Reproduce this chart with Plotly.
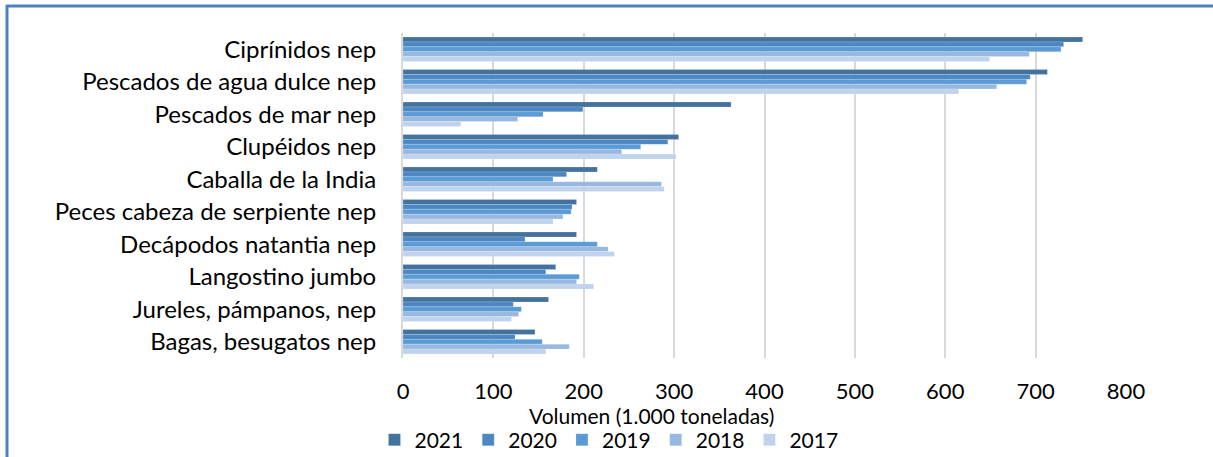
import plotly.graph_objects as go

categories = ["Ciprínidos nep", "Pescados de agua dulce nep", "Pescados de mar nep",
              "Clupéidos nep", "Caballa de la India", "Peces cabeza de serpiente nep",
              "Decápodos natantia nep", "Langostino jumbo", "Jureles, pámpanos, nep",
              "Bagas, besugatos nep"]
years = ["2021", "2020", "2019", "2018", "2017"]
v2021 = [752, 713, 363, 305, 215, 192, 192, 169, 161, 146]
v2020 = [731, 694, 199, 293, 181, 187, 135, 158, 122, 124]
v2019 = [728, 690, 155, 263, 166, 186, 215, 195, 131, 154]
v2018 = [693, 657, 127, 242, 286, 177, 227, 192, 128, 184]
v2017 = [649, 615, 64, 302, 289, 166, 234, 211, 120, 158]
series = [v2021, v2020, v2019, v2018, v2017]
colors = ["#43729F", "#4C87C2", "#5B9BD5", "#98B8E0", "#C0D3EC"]
x_ticks = [0, 100, 200, 300, 400, 500, 600, 700, 800]

W, H = 1213, 457
L, R, T, B = 403, 87, 33, 99
pw, ph = W - L - R, H - T - B

def px(xp):
    return (xp - L) / pw

def py(yp):
    return (H - B - yp) / ph

fig = go.Figure()
for name, vals, col in zip(years, series, colors):
    fig.add_trace(go.Bar(
        y=categories, x=vals, name=name, orientation="h",
        marker=dict(color=col, line=dict(color="rgba(255,255,255,0.35)", width=0.5)),
    ))

font = "Lato, 'Open Sans', sans-serif"
fig.update_layout(
    width=W, height=H,
    margin=dict(l=L, r=R, t=T, b=B, autoexpand=False),
    paper_bgcolor="white", plot_bgcolor="white",
    barmode="group", bargap=0.25, bargroupgap=0,
    font=dict(family=font, size=24, color="#000000"),
    showlegend=True,
    legend=dict(orientation="h", x=px(609), xanchor="center", y=py(440), yanchor="middle",
                font=dict(size=21), itemwidth=30, traceorder="normal",
                tracegroupgap=0, bgcolor="rgba(0,0,0,0)"),
    xaxis=dict(range=[0, 800], tickvals=x_ticks, showgrid=True, gridcolor="#D9D9D9",
               gridwidth=2, zeroline=False, showline=False, ticks="",
               tickfont=dict(size=22), ticklabelstandoff=18),
    yaxis=dict(autorange="reversed", showline=True, linecolor="#D9D9D9", linewidth=2,
               ticks="", tickfont=dict(size=24), ticklabelstandoff=20),
    annotations=[dict(text="Volumen (1.000 toneladas)", xref="paper", yref="paper",
                      x=px(651), y=py(415), xanchor="center", yanchor="middle",
                      showarrow=False, font=dict(size=21))],
    shapes=[
        dict(type="line", xref="paper", yref="paper", x0=px(6), x1=px(1213), y0=py(6), y1=py(6),
             line=dict(color="#4F81BD", width=3)),
        dict(type="line", xref="paper", yref="paper", x0=px(7), x1=px(7), y0=py(5), y1=py(457),
             line=dict(color="#4F81BD", width=3)),
    ],
)
fig.write_html("out.html", config={"displayModeBar": False},
               post_script="document.body.style.margin='0';")
